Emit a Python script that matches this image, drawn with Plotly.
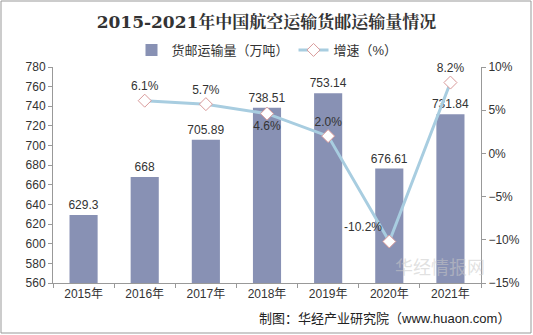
import plotly.graph_objects as go

years = ["2015年", "2016年", "2017年", "2018年", "2019年", "2020年", "2021年"]
volume = [629.3, 668, 705.89, 738.51, 753.14, 676.61, 731.84]
volume_labels = ["629.3", "668", "705.89", "738.51", "753.14", "676.61", "731.84"]
growth = [None, 6.1, 5.7, 4.6, 2.0, -10.2, 8.2]
growth_labels = ["", "6.1%", "5.7%", "4.6%", "2.0%", "-10.2%", "8.2%"]
growth_pos = ["top center", "top center", "top center", "bottom center", "top center", "top left", "top center"]

W, H = 533, 335
ml, mr, mt, mb = 53, 52, 67, 52
pw, ph = W - ml - mr, H - mt - mb

def px(x):
    return (x - ml) / pw

def py(y):
    return (H - mb - y) / ph

fig = go.Figure()
fig.add_trace(go.Bar(
    x=years, y=volume, name="货邮运输量（万吨）",
    marker=dict(color="#8891b4", line=dict(width=0)),
    width=0.46,
    text=volume_labels, textposition="outside",
    textfont=dict(size=12, color="#333333"),
    constraintext="none",
    cliponaxis=False,
))
fig.add_trace(go.Scatter(
    x=years, y=growth, name="增速（%）", yaxis="y2",
    mode="lines+markers+text",
    line=dict(color="#a8cde0", width=3),
    marker=dict(symbol="diamond", size=10, color="white", line=dict(color="#d99a9a", width=1)),
    text=growth_labels, textposition=growth_pos,
    textfont=dict(size=12, color="#333333"),
    cliponaxis=False,
))

font = "Liberation Sans, Arial, Noto Sans CJK SC, sans-serif"
fig.update_layout(
    width=W, height=H,
    margin=dict(l=ml, r=mr, t=mt, b=mb),
    paper_bgcolor="white", plot_bgcolor="white",
    font=dict(family=font, size=12, color="#333333"),
    title=dict(text="<b>2015-2021年中国航空运输货邮运输量情况</b>",
               x=0.5, xanchor="center", y=1 - 22 / H, yanchor="middle",
               font=dict(family="DejaVu Serif, Noto Serif CJK SC, Noto Sans CJK SC, serif", size=17, color="#333333")),
    showlegend=True,
    legend=dict(orientation="h", x=0.5, xanchor="center", y=py(50), yanchor="middle",
                font=dict(size=13, color="#333333"), bgcolor="rgba(0,0,0,0)",
                itemwidth=30, tracegroupgap=0),
    bargap=0.54,
    xaxis=dict(showline=True, linecolor="#999999", ticks="outside", tickson="boundaries",
               ticklen=4, tickcolor="#999999", showgrid=False, tickfont=dict(size=12, color="#333333")),
    yaxis=dict(range=[560, 780], dtick=20, showline=True, linecolor="#999999", ticks="outside",
               ticklen=4, tickcolor="#999999", showgrid=False, zeroline=False,
               tickfont=dict(size=12, color="#333333")),
    yaxis2=dict(range=[-15, 10], dtick=5, overlaying="y", side="right", showline=True,
                linecolor="#999999", ticks="outside", ticklen=4, tickcolor="#999999",
                showgrid=False, zeroline=False, ticksuffix="%",
                tickfont=dict(size=12, color="#333333")),
    shapes=[dict(type="rect", xref="paper", yref="paper",
                 x0=px(1), x1=px(531), y0=py(333), y1=py(1),
                 line=dict(color="#999999", width=1), fillcolor="rgba(0,0,0,0)", layer="below")],
    annotations=[
        dict(text="华经情报网", xref="paper", yref="paper", x=px(440), y=py(268),
             xanchor="center", yanchor="middle", showarrow=False,
             font=dict(size=18, color="rgba(200,200,200,0.55)")),
        dict(text="制图：华经产业研究院（www.huaon.com）", xref="paper", yref="paper",
             x=px(512), y=py(318), xanchor="right", yanchor="middle", showarrow=False,
             font=dict(size=13, color="#222222")),
    ],
)

fig.write_html("out.html")
